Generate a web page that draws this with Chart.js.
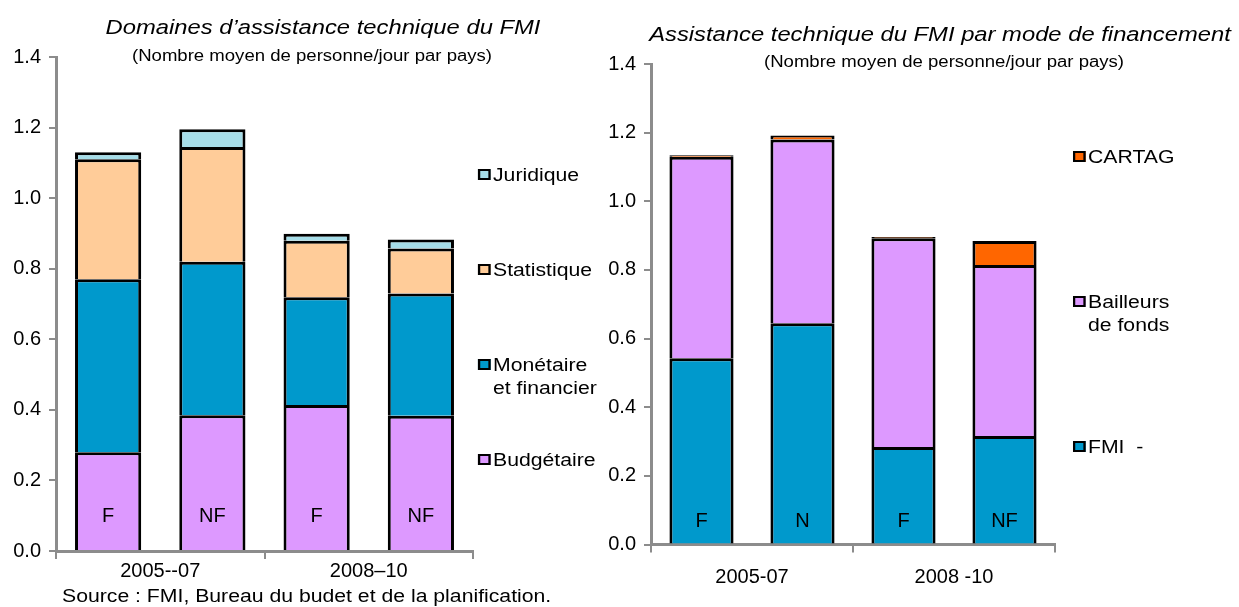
<!DOCTYPE html>
<html><head><meta charset="utf-8">
<script src="https://cdn.jsdelivr.net/npm/chart.js@4/dist/chart.umd.min.js"></script>
<style>
html,body{margin:0;padding:0;background:#fff;}
body{width:1239px;height:607px;position:relative;overflow:hidden;font-family:"Liberation Sans",Arial,sans-serif;color:#000;}
canvas{position:absolute;top:0;}
.t{position:absolute;white-space:nowrap;transform:translateX(-50%) scaleX(1.16);}
.title{font-size:20.5px;font-style:italic;}
.sub{font-size:16px;}
.leg{position:absolute;font-size:18.3px;line-height:23px;transform:scaleX(1.16);transform-origin:0 0;}
.leg .sw{position:absolute;left:-13px;top:6px;width:7px;height:7px;border:2px solid #000;}
.src{position:absolute;font-size:18.3px;left:62px;top:585px;white-space:nowrap;transform:scaleX(1.16);transform-origin:0 0;}
</style></head><body>
<canvas id="c1" width="560" height="607" style="left:0;width:560px;height:607px"></canvas>
<canvas id="c2" width="679" height="607" style="left:560px;width:679px;height:607px"></canvas>
<div class="t title" style="left:323px;top:15px">Domaines d’assistance technique du FMI</div>
<div class="t sub" style="left:312px;top:47px">(Nombre moyen de personne/jour par pays)</div>
<div class="t title" style="left:940px;top:22px">Assistance technique du FMI par mode de financement</div>
<div class="t sub" style="left:944px;top:53px">(Nombre moyen de personne/jour par pays)</div>
<div id="leg1"></div>
<div id="leg2"></div>
<div class="src">Source : FMI, Bureau du budet et de la planification.</div>
<script>
// ---- Data ----
const barLabelsLeft = ['F', 'NF', 'F', 'NF'];
const periodsLeft = ['2005--07', '2008–10'];
const budgetaire = [0.28, 0.385, 0.414, 0.383];
const monetaire = [0.49, 0.435, 0.305, 0.347];
const statistique = [0.34, 0.325, 0.16, 0.127];
const juridique = [0.02, 0.05, 0.02, 0.026];

const barLabelsRight = ['F', 'N', 'F', 'NF'];
const periodsRight = ['2005-07', '2008 -10'];
const fmi = [0.543, 0.645, 0.284, 0.316];
const bailleurs = [0.587, 0.535, 0.608, 0.498];
const cartag = [0.004, 0.012, 0.004, 0.07];

const yTicks = [0, 0.2, 0.4, 0.6, 0.8, 1.0, 1.2, 1.4];

const FONT = '"Liberation Sans", Arial, sans-serif';
const GRAY = '#8c8c8c';

function barLabelPlugin(labels, yPix) {
  return {
    id: 'barLabels',
    afterDatasetsDraw(chart) {
      const ctx = chart.ctx, xs = chart.scales.x;
      ctx.save();
      ctx.font = '20px ' + FONT;
      ctx.fillStyle = '#000';
      ctx.textAlign = 'center';
      ctx.textBaseline = 'middle';
      labels.forEach((l, i) => ctx.fillText(l, xs.getPixelForValue(i), yPix));
      ctx.restore();
    }
  };
}

function makeChart(id, labels, periods, datasets, pad, yWidth, xHeight, xPad, labelY) {
  return new Chart(document.getElementById(id), {
    type: 'bar',
    data: { labels: labels, datasets: datasets.map(d => ({
      label: d.label, data: d.data, backgroundColor: d.color,
      borderColor: '#000', borderWidth: 3, borderSkipped: 'start',
      categoryPercentage: 1, barPercentage: 0.635
    })) },
    options: {
      responsive: false, animation: false, devicePixelRatio: 1,
      layout: { padding: pad },
      plugins: { legend: { display: false }, tooltip: { enabled: false } },
      scales: {
        x: { display: false, stacked: true },
        x2: {
          type: 'category', labels: periods, position: 'bottom', offset: true,
          grid: { offset: true, drawOnChartArea: false, drawTicks: true, tickLength: 8, color: GRAY, lineWidth: 2 },
          border: { display: true, color: GRAY, width: 3 },
          ticks: { color: '#000', font: { family: FONT, size: 20 }, padding: xPad, maxRotation: 0 },
          afterFit(s) { s.height = xHeight; }
        },
        y: {
          stacked: true, min: 0, max: 1.4,
          afterBuildTicks(s) { s.ticks = yTicks.map(v => ({ value: v })); },
          grid: { drawOnChartArea: false, drawTicks: true, tickLength: 7, color: GRAY, lineWidth: 2 },
          border: { display: true, color: GRAY, width: 3 },
          ticks: { color: '#000', font: { family: FONT, size: 20 }, padding: 8, callback: v => Number(v).toFixed(1) },
          afterFit(s) { s.width = yWidth; }
        }
      }
    },
    plugins: [barLabelPlugin(labels, labelY)]
  });
}

makeChart('c1', barLabelsLeft, periodsLeft, [
  { label: 'Budgétaire', data: budgetaire, color: '#DD99FF' },
  { label: 'Monétaire et financier', data: monetaire, color: '#0099CC' },
  { label: 'Statistique', data: statistique, color: '#FFCC99' },
  { label: 'Juridique', data: juridique, color: '#A6DDE8' }
], { top: 57, right: 87, left: 0, bottom: 0 }, 56, 56, 0, 516);

makeChart('c2', barLabelsRight, periodsRight, [
  { label: 'FMI', data: fmi, color: '#0099CC' },
  { label: 'Bailleurs de fonds', data: bailleurs, color: '#DD99FF' },
  { label: 'CARTAG', data: cartag, color: '#FF6600' }
], { top: 64, right: 184, left: 0, bottom: 0 }, 91, 62.5, 13, 521);

// ---- HTML legends ----
function legend(host, items) {
  const el = document.getElementById(host);
  items.forEach(it => {
    const d = document.createElement('div');
    d.className = 'leg';
    d.style.left = it.x + 'px'; d.style.top = it.y + 'px';
    d.innerHTML = '<span class="sw" style="background:' + it.c + '"></span>' + it.t;
    el.appendChild(d);
  });
}
legend('leg1', [
  { t: 'Juridique', c: '#A6DDE8', x: 493, y: 163 },
  { t: 'Statistique', c: '#FFCC99', x: 493, y: 258 },
  { t: 'Monétaire<br>et financier', c: '#0099CC', x: 493, y: 353 },
  { t: 'Budgétaire', c: '#DD99FF', x: 493, y: 448 }
]);
legend('leg2', [
  { t: 'CARTAG', c: '#FF6600', x: 1088, y: 145 },
  { t: 'Bailleurs<br>de fonds', c: '#DD99FF', x: 1088, y: 290 },
  { t: 'FMI &nbsp;-', c: '#0099CC', x: 1088, y: 435 }
]);
</script>
</body></html>
